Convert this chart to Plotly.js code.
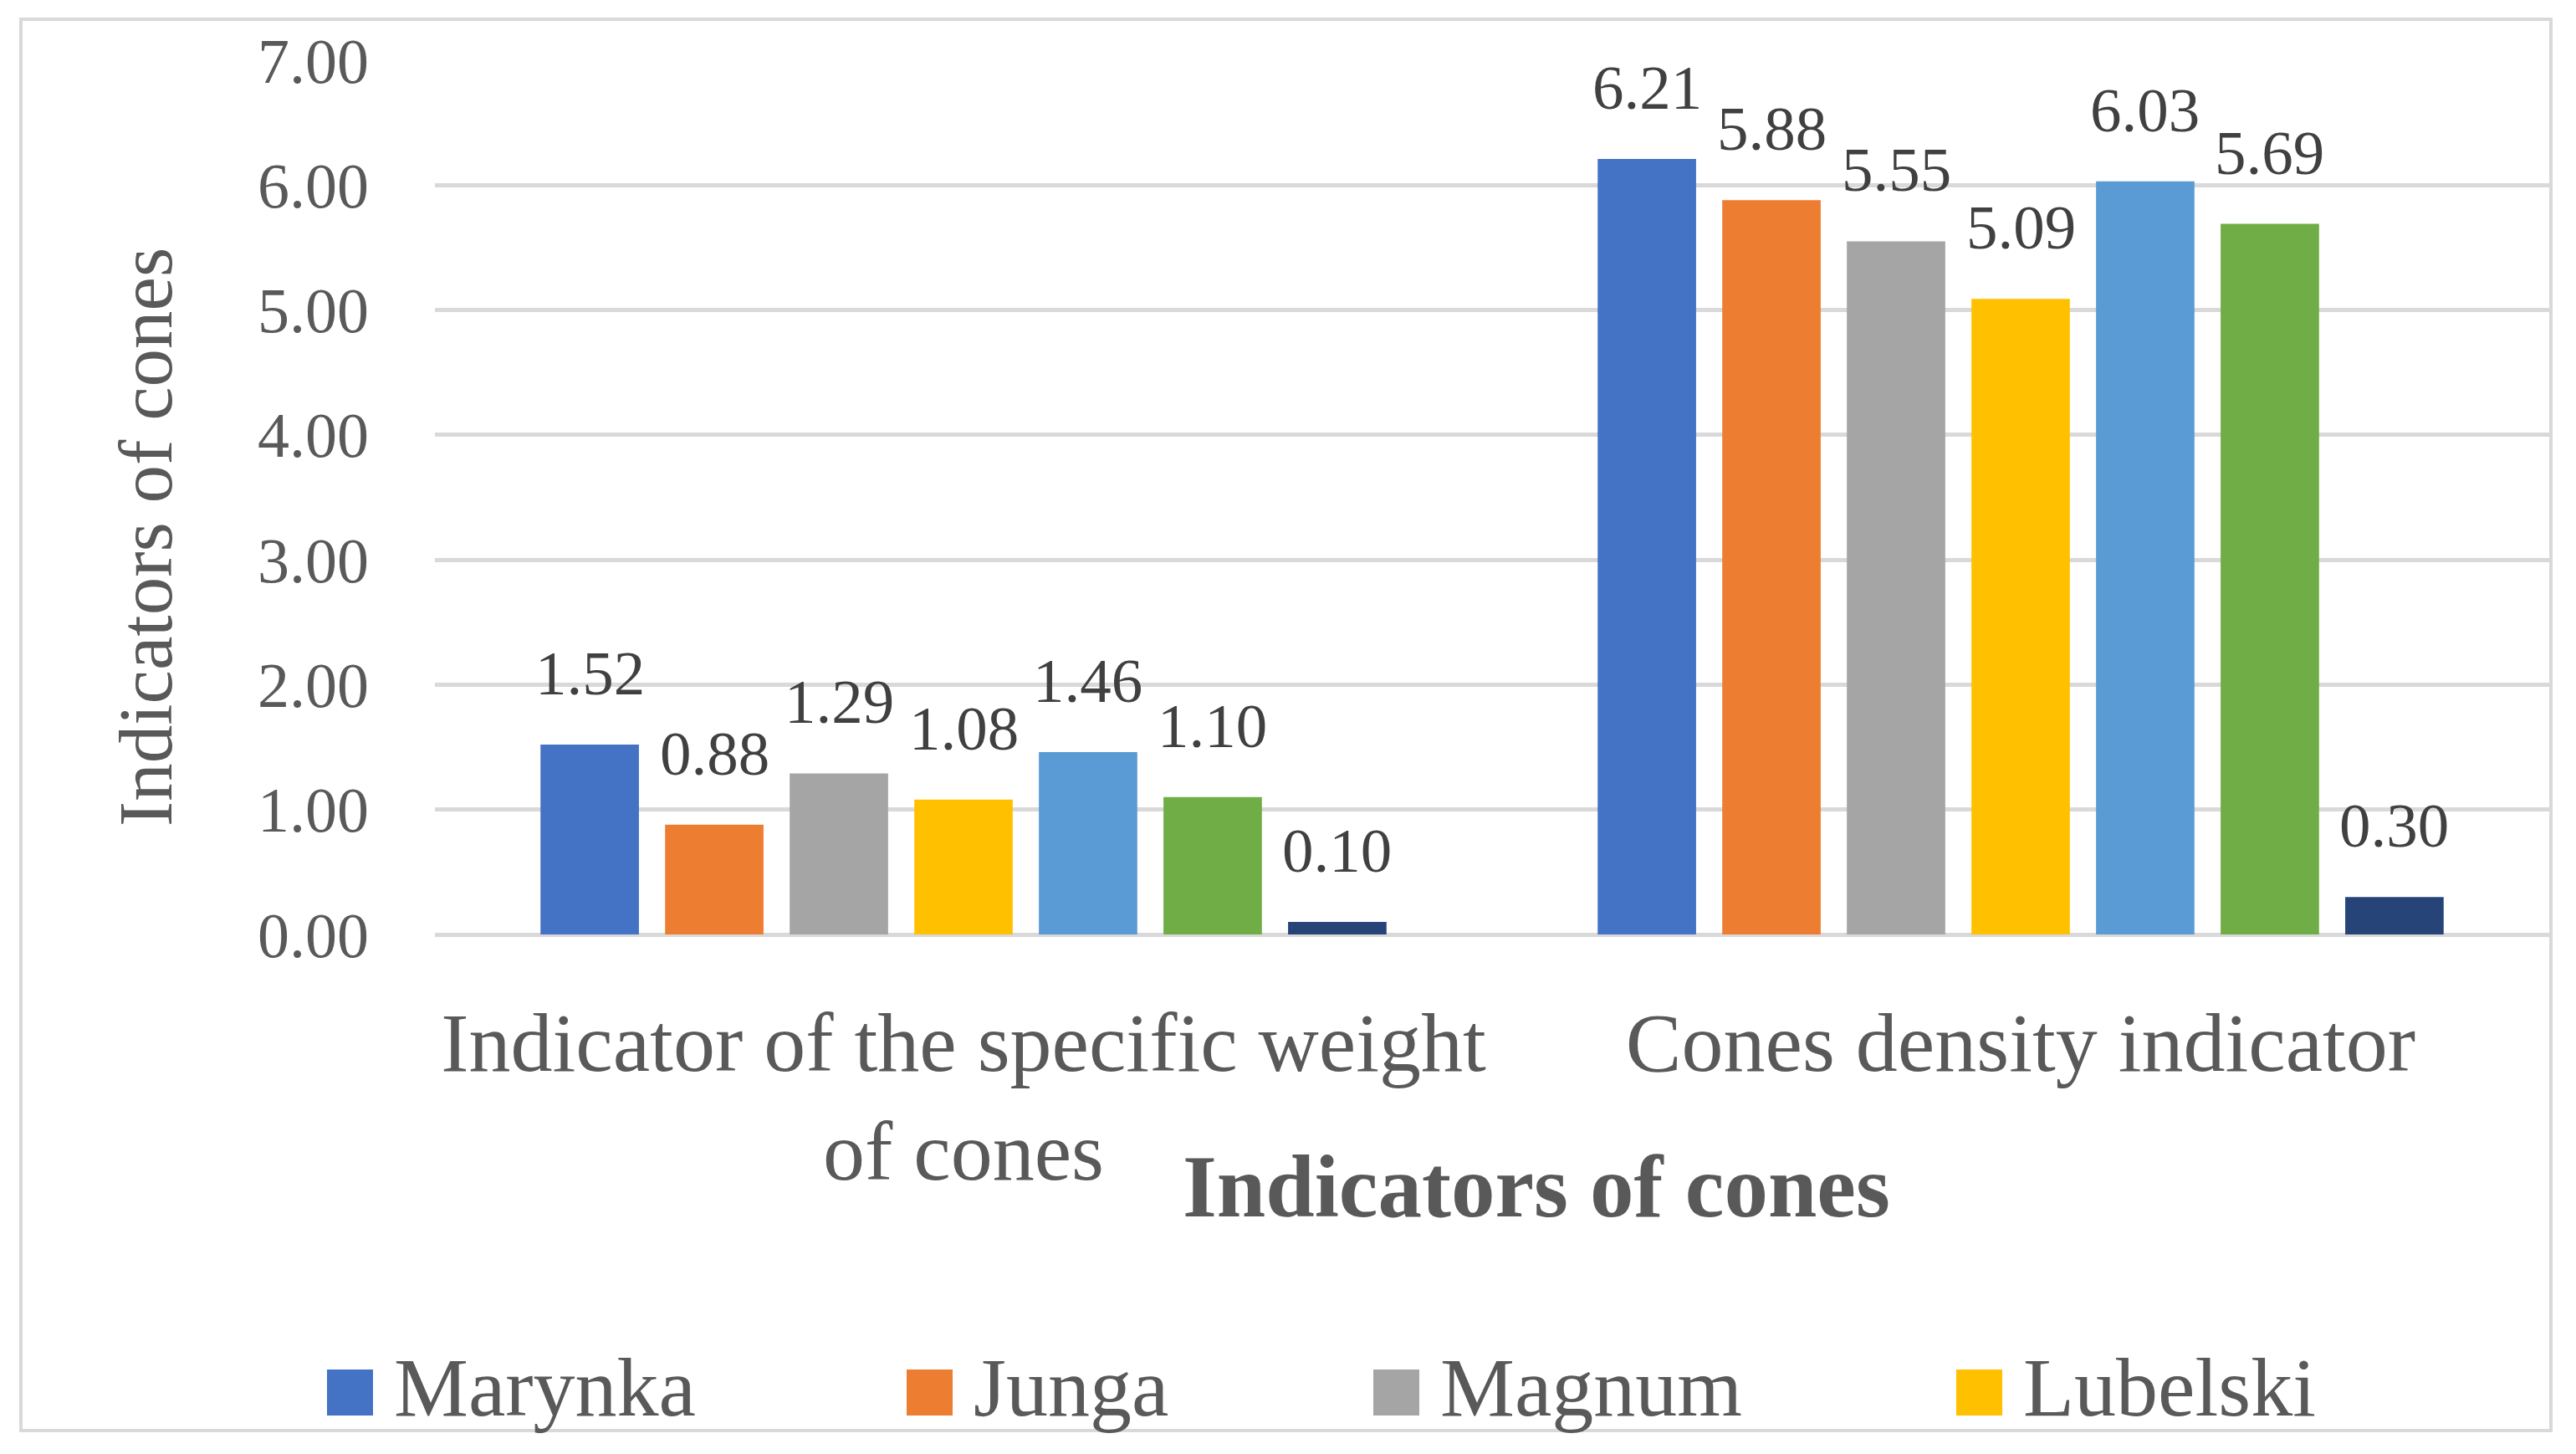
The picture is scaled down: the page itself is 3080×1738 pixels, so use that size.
<!DOCTYPE html>
<html>
<head>
<meta charset="utf-8">
<script src="https://cdn.plot.ly/plotly-3.0.1.min.js"></script>
<style>
  html, body { margin: 0; padding: 0; background: #ffffff; }
  #chart { width: 3080px; height: 1738px; }
</style>
</head>
<body>
<div id="chart"></div>
<script>
// categories on the x axis
const categories = ["Indicator of the specific weight<br>of cones", "Cones density indicator"];

// one array per variety, values for [specific weight, density]
const marynka  = [1.52, 6.21];
const junga    = [0.88, 5.88];
const magnum   = [1.29, 5.55];
const lubelski = [1.08, 5.09];
const variety5 = [1.46, 6.03];
const variety6 = [1.10, 5.69];
const variety7 = [0.10, 0.30];

const seriesNames  = ["Marynka", "Junga", "Magnum", "Lubelski", "Variety 5", "Variety 6", "Variety 7"];
const seriesValues = [marynka, junga, magnum, lubelski, variety5, variety6, variety7];
const seriesColors = ["#4472C4", "#ED7D31", "#A5A5A5", "#FFC000", "#5B9BD5", "#70AD47", "#264478"];

const yTicks = [0, 1, 2, 3, 4, 5, 6, 7];
const legendCount = 4; // only the first four entries are visible in the legend

// page geometry
const W = 3080, H = 1738;
const M = {l: 520, r: 32, t: 72, b: 621};
const bargap = 0.175;
const font = "Liberation Serif, Times New Roman, serif";
const grey = "#595959";

function px(x) { return (x - M.l) / (W - M.l - M.r); }
function py(y) { return (H - M.b - y) / (H - M.t - M.b); }

let traces = seriesNames.map((name, i) => ({
	type: "bar",
	name: name,
	x: categories,
	y: seriesValues[i],
	marker: {color: seriesColors[i], line: {width: 0}},
	showlegend: false,
	hoverinfo: "x+y+name"
}));

// value labels above each bar
let annotations = [];
const n = seriesNames.length;
const slot = (1 - bargap) / n;
seriesValues.forEach((vals, i) => {
	vals.forEach((v, c) => {
		annotations.push({
			x: c + (i - (n - 1) / 2) * slot,
			y: v,
			xref: "x", yref: "y",
			text: v.toFixed(2),
			showarrow: false,
			xanchor: "center", yanchor: "bottom",
			yshift: 42,
			font: {family: font, size: 75, color: "#404040"}
		});
	});
});

// axis titles
annotations.push({
	xref: "paper", yref: "paper", x: px(1837), y: py(1418),
	text: "<b>Indicators of cones</b>", showarrow: false,
	xanchor: "center", yanchor: "middle",
	font: {family: font, size: 105, color: grey}
});
annotations.push({
	xref: "paper", yref: "paper", x: px(174), y: py(642),
	text: "Indicators of cones", showarrow: false, textangle: -90,
	xanchor: "center", yanchor: "middle",
	font: {family: font, size: 91, color: grey}
});

// legend (large square keys)
let shapes = [];
const legendX = [391, 1084, 1642, 2339];
for (let i = 0; i < legendCount; i++) {
	shapes.push({
		type: "rect", xref: "paper", yref: "paper",
		x0: px(legendX[i]), x1: px(legendX[i] + 55),
		y0: py(1692), y1: py(1637),
		fillcolor: seriesColors[i], line: {width: 0}
	});
	annotations.push({
		xref: "paper", yref: "paper", x: px(legendX[i] + 78), y: py(1658),
		text: seriesNames[i], showarrow: false,
		xanchor: "left", yanchor: "middle",
		font: {family: font, size: 100, color: grey}
	});
}

// chart frame
shapes.push({
	type: "rect", xref: "paper", yref: "paper", layer: "below",
	x0: px(25), x1: px(3050), y0: py(1710), y1: py(23),
	line: {color: "#d9d9d9", width: 4}
});

let layout = {
	width: W,
	height: H,
	margin: M,
	paper_bgcolor: "#ffffff",
	plot_bgcolor: "#ffffff",
	barmode: "group",
	bargap: bargap,
	bargroupgap: 0.21,
	showlegend: false,
	xaxis: {
		type: "category",
		showgrid: false,
		showline: false,
		ticks: "",
		ticklabelstandoff: 62,
		tickfont: {family: font, size: 100, color: grey}
	},
	yaxis: {
		range: [0, 7],
		tickvals: yTicks,
		tickformat: ".2f",
		showgrid: true,
		gridcolor: "#d9d9d9",
		gridwidth: 5,
		zeroline: true,
		zerolinecolor: "#d9d9d9",
		zerolinewidth: 5,
		showline: false,
		ticks: "",
		ticklabelstandoff: 78,
		tickfont: {family: font, size: 76, color: grey}
	},
	annotations: annotations,
	shapes: shapes
};

Plotly.newPlot("chart", traces, layout, {displayModeBar: false, responsive: false});
</script>
</body>
</html>
